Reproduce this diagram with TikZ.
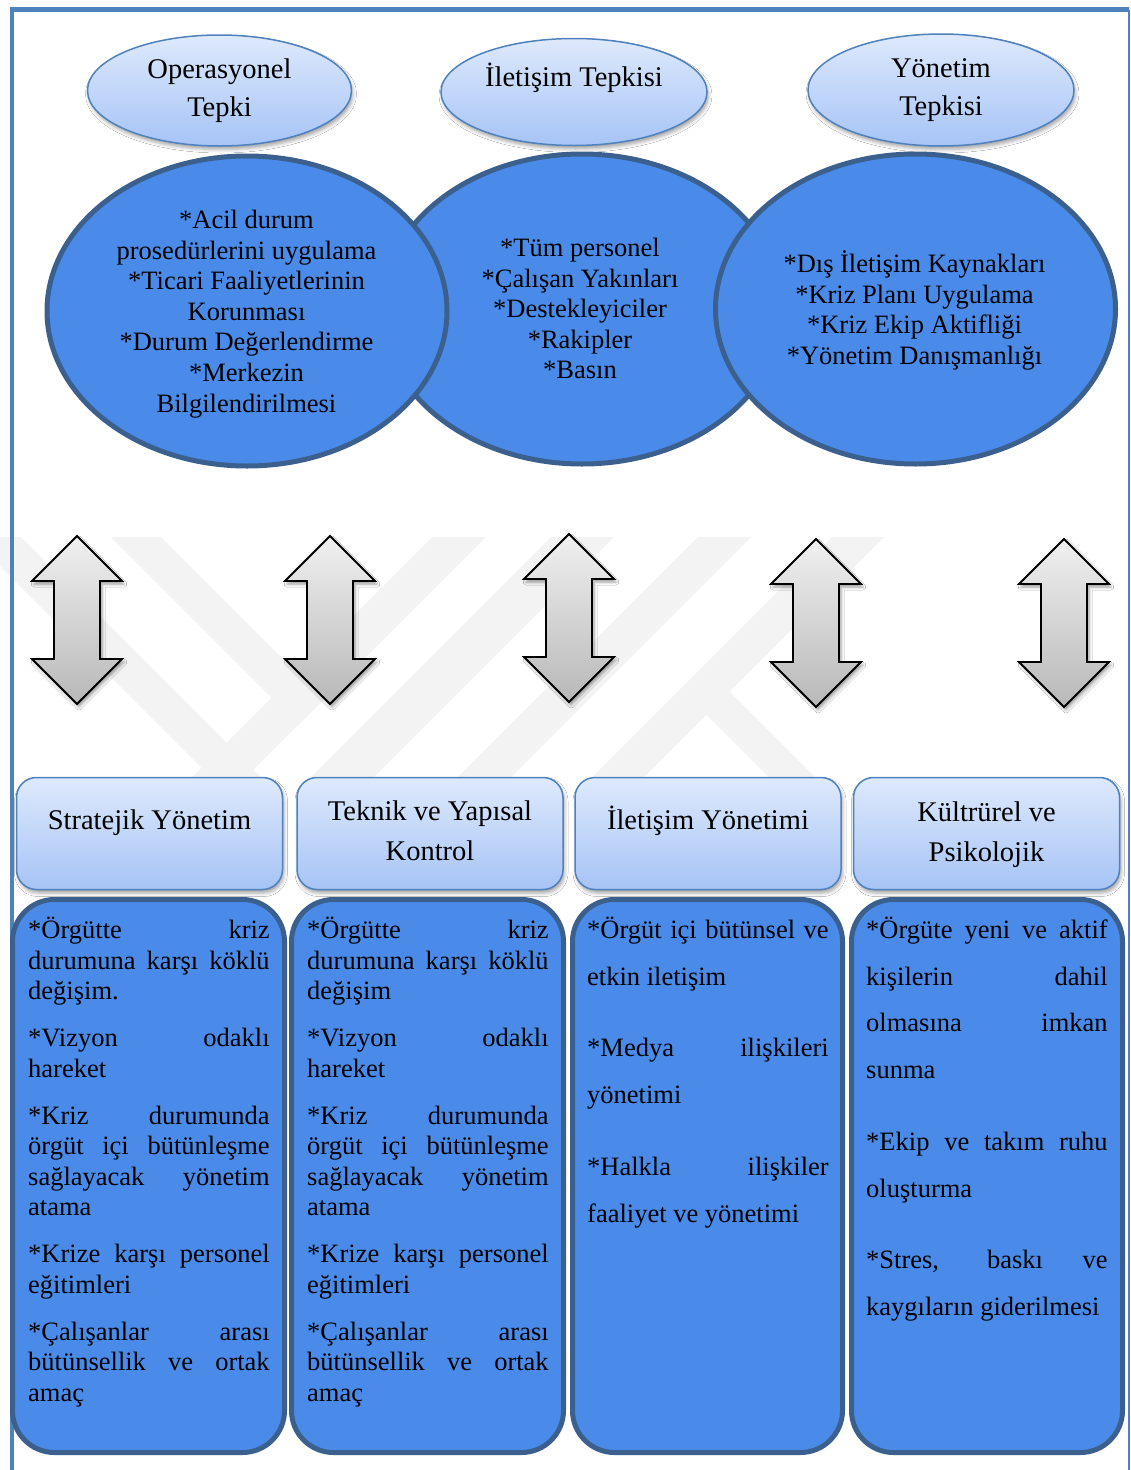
\documentclass[tikz,border=0pt]{standalone}
\usepackage{fontspec}
\setmainfont{Liberation Serif}
\usetikzlibrary{shapes.geometric,shadows.blur}

\definecolor{framecol}{RGB}{79,129,189}
\definecolor{deepfill}{RGB}{74,139,234}
\definecolor{deepedge}{RGB}{60,96,142}
\definecolor{paletop}{RGB}{222,233,252}
\definecolor{palebot}{RGB}{166,196,246}
\definecolor{paleedge}{RGB}{79,129,189}
\definecolor{markgray}{RGB}{243,243,243}
\definecolor{arrowtop}{RGB}{240,240,240}
\definecolor{arrowbot}{RGB}{184,184,184}

\newcommand\bodyfont{\fontsize{26.5pt}{30.6pt}\selectfont}
\newcommand\wideleading{\fontsize{26.5pt}{46.7pt}\selectfont}
\newcommand\titlefont{\fontsize{28.5pt}{38pt}\selectfont}
% a justified line: interword spaces stretched to the full column width
\newcommand\jl[1]{\makebox[\linewidth][s]{#1}}
% two-headed block arrow, given its centre x and tip y
\newcommand\dualarrow[2]{\path[dblarrowstyle] (#1,#2) -- ++(45,45) -- ++(-22,0) -- ++(0,78)
  -- ++(22,0) -- ++(-45,45) -- ++(-45,-45) -- ++(22,0) -- ++(0,-78) -- ++(-22,0) -- cycle;}

\begin{document}
\begin{tikzpicture}[x=1pt,y=-1pt,
  paleshape/.style={draw=paleedge, line width=1.5pt, top color=paletop, bottom color=palebot,
    blur shadow={shadow xshift=1.5pt, shadow yshift=-3.5pt, shadow blur radius=3.5pt, shadow opacity=35}},
  titleell/.style={paleshape, ellipse, inner sep=0pt},
  headbox/.style={paleshape, rounded corners=20pt, minimum width=266pt, minimum height=112pt, inner sep=0pt},
  bigell/.style={ellipse, draw=deepedge, line width=5pt, fill=deepfill, inner sep=0pt},
  colbox/.style={draw=deepedge, line width=5pt, fill=deepfill, rounded corners=42pt,
    inner sep=0pt, minimum height=553pt},
  dblarrowstyle/.style={draw=black, line width=1.8pt, line join=miter, top color=arrowtop, bottom color=arrowbot,
    blur shadow={shadow xshift=2pt, shadow yshift=-3pt, shadow blur radius=3pt, shadow opacity=40}},
  txt/.style={anchor=base, inner sep=0pt},
  coltext/.style={anchor=base west, inner sep=0pt}]

\useasboundingbox (0,0) rectangle (1130,1470);
\fill[white] (0,0) rectangle (1130,1470);

% faint logo stripes in the background
\begin{scope}
  \clip (0,520) rectangle (1130,790);
  \fill[markgray] (-29,537) -- (21,537) -- (261,777) -- (211,777) -- cycle;
  \fill[markgray] (111,537) -- (161,537) -- (323.5,699.5) -- (298.5,724.5) -- cycle;
  \fill[markgray] (432,537) -- (486,537) -- (246,777) -- (192,777) -- cycle;
  \fill[markgray] (551,537) -- (614,537) -- (374,777) -- (311,777) -- cycle;
  \fill[markgray] (698,537) -- (751,537) -- (511,777) -- (458,777) -- cycle;
  \fill[markgray] (832,537) -- (884,537) -- (644,777) -- (592,777) -- cycle;
  \fill[markgray] (684,692) -- (730,692) -- (815,777) -- (769,777) -- cycle;
\end{scope}

% page frame
\draw[framecol, line width=4.5pt, line join=miter] (12,1470) -- (12,9.5) -- (1128.5,9.5);
\draw[framecol, line width=2pt] (1128.5,9.5) -- (1128.5,1470);

% response titles
\node[titleell, minimum width=264pt, minimum height=111pt] (opell) at (219.5,90.5) {};
\node[titleell, minimum width=266pt, minimum height=107pt] (ilell) at (574,92) {};
\node[titleell, minimum width=266pt, minimum height=112pt] (yoell) at (941,90) {};

\node[txt] (optxt) at (219.5,78.5) {\parbox[t]{250pt}{\centering\titlefont Operasyonel\\Tepki}};
\node[txt] (iltxt) at (574,86) {\titlefont İletişim Tepkisi};
\node[txt] (yotxt) at (941,77.5) {\parbox[t]{250pt}{\centering\titlefont Yönetim\\Tepkisi}};

% response contents
\node[bigell, minimum width=401pt, minimum height=310pt] (midell) at (582,309) {};
\node[bigell, minimum width=400pt, minimum height=310pt] (leftell) at (247,311) {};
\node[bigell, minimum width=400pt, minimum height=310pt] (rightell) at (915.5,309) {};

\node[txt] (lefttxt) at (246.5,228.5) {\parbox[t]{380pt}{\centering\bodyfont
  *Acil durum\\{}prosedürlerini uygulama\\{}*Ticari Faaliyetlerinin\\{}Korunması\\{}*Durum Değerlendirme\\{}*Merkezin\\{}Bilgilendirilmesi}};
\node[txt] (midtxt) at (580,256.5) {\parbox[t]{300pt}{\centering\bodyfont
  *Tüm personel\\{}*Çalışan Yakınları\\{}*Destekleyiciler\\{}*Rakipler\\{}*Basın}};
\node[txt] (righttxt) at (914.5,272.5) {\parbox[t]{380pt}{\centering\bodyfont
  *Dış İletişim Kaynakları\\{}*Kriz Planı Uygulama\\{}*Kriz Ekip Aktifliği\\{}*Yönetim Danışmanlığı}};

% two-way arrows
\dualarrow{77}{536}
\dualarrow{330}{536}
\dualarrow{569}{534}
\dualarrow{816}{539}
\dualarrow{1064}{539}

% management area headers
\node[headbox] (hb1) at (149.5,833.5) {};
\node[headbox] (hb2) at (430,833.5) {};
\node[headbox] (hb3) at (708,833.5) {};
\node[headbox] (hb4) at (986.5,833.5) {};

\node[txt] (hbt1) at (149.5,829) {\titlefont Stratejik Yönetim};
\node[txt] (hbt2) at (430,820.5) {\parbox[t]{250pt}{\centering\fontsize{28.5pt}{40pt}\selectfont Teknik ve Yapısal\\Kontrol}};
\node[txt] (hbt3) at (708,829) {\titlefont İletişim Yönetimi};
\node[txt] (hbt4) at (986.5,821.5) {\parbox[t]{250pt}{\centering\fontsize{28.5pt}{39.5pt}\selectfont Kültrürel ve\\Psikolojik}};

% management area contents
\node[colbox, minimum width=272pt] (cb1) at (148.5,1176) {};
\node[colbox, minimum width=272pt] (cb2) at (427.5,1176) {};
\node[colbox, minimum width=270pt] (cb3) at (707.5,1176) {};
\node[colbox, minimum width=271pt] (cb4) at (987,1176) {};

\node[coltext] (ct1) at (28,938.5) {\parbox[t]{241.5pt}{\raggedright\bodyfont
  \jl{*Örgütte kriz}\\
  \jl{durumuna karşı köklü}\\
  değişim.\\[16.3pt]
  \jl{*Vizyon odaklı}\\
  hareket\\[16.3pt]
  \jl{*Kriz durumunda}\\
  \jl{örgüt içi bütünleşme}\\
  \jl{sağlayacak yönetim}\\
  atama\\[16.3pt]
  \jl{*Krize karşı personel}\\
  eğitimleri\\[16.3pt]
  \jl{*Çalışanlar arası}\\
  \jl{bütünsellik ve ortak}\\
  amaç}};

\node[coltext] (ct2) at (307,938.5) {\parbox[t]{241.5pt}{\raggedright\bodyfont
  \jl{*Örgütte kriz}\\
  \jl{durumuna karşı köklü}\\
  değişim\\[16.3pt]
  \jl{*Vizyon odaklı}\\
  hareket\\[16.3pt]
  \jl{*Kriz durumunda}\\
  \jl{örgüt içi bütünleşme}\\
  \jl{sağlayacak yönetim}\\
  atama\\[16.3pt]
  \jl{*Krize karşı personel}\\
  eğitimleri\\[16.3pt]
  \jl{*Çalışanlar arası}\\
  \jl{bütünsellik ve ortak}\\
  amaç}};

\node[coltext] (ct3) at (587,938.5) {\parbox[t]{241.5pt}{\raggedright\wideleading
  \jl{*Örgüt içi bütünsel ve}\\
  etkin iletişim\\[25pt]
  \jl{*Medya ilişkileri}\\
  yönetimi\\[25pt]
  \jl{*Halkla ilişkiler}\\
  faaliyet ve yönetimi}};

\node[coltext] (ct4) at (866,938.5) {\parbox[t]{241.5pt}{\raggedright\wideleading
  \jl{*Örgüte yeni ve aktif}\\
  \jl{kişilerin dahil}\\
  \jl{olmasına imkan}\\
  sunma\\[25pt]
  \jl{*Ekip ve takım ruhu}\\
  oluşturma\\[25pt]
  \jl{*Stres, baskı ve}\\
  kaygıların giderilmesi}};

\end{tikzpicture}
\end{document}
